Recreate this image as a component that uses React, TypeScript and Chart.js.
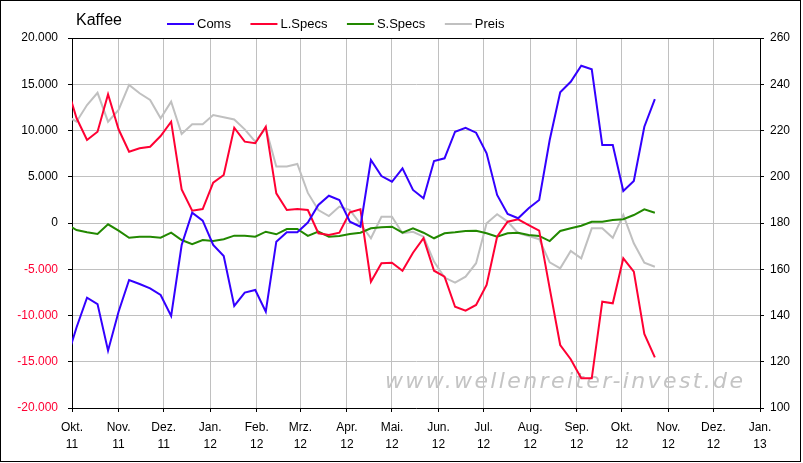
import React, { useEffect, useRef } from 'react';
import { Chart, registerables } from 'chart.js';

Chart.register(...registerables);

// Weekly report dates (Tuesdays)
const weekDates: string[] = [
  '2011-09-27', '2011-10-04', '2011-10-11', '2011-10-18', '2011-10-25',
  '2011-11-01', '2011-11-08', '2011-11-15', '2011-11-22', '2011-11-29',
  '2011-12-06', '2011-12-13', '2011-12-20', '2011-12-27',
  '2012-01-03', '2012-01-10', '2012-01-17', '2012-01-24', '2012-01-31',
  '2012-02-07', '2012-02-14', '2012-02-21', '2012-02-28',
  '2012-03-06', '2012-03-13', '2012-03-20', '2012-03-27',
  '2012-04-03', '2012-04-10', '2012-04-17', '2012-04-24',
  '2012-05-01', '2012-05-08', '2012-05-15', '2012-05-22', '2012-05-29',
  '2012-06-05', '2012-06-12', '2012-06-19', '2012-06-26',
  '2012-07-03', '2012-07-10', '2012-07-17', '2012-07-24', '2012-07-31',
  '2012-08-07', '2012-08-14', '2012-08-21', '2012-08-28',
  '2012-09-04', '2012-09-11', '2012-09-18', '2012-09-25',
  '2012-10-02', '2012-10-09', '2012-10-16', '2012-10-23',
];

const coms: number[] = [
  -15000, -11300, -8080, -8760, -13800, -9590, -6160, -6590, -7060, -7780,
  -10050, -2380, 1110, 250, -2380, -3570, -8970, -7530, -7240, -9590,
  -2020, -1010, -1010, 50, 1950, 2950, 2490, 140, -400, 6810,
  5080, 4460, 5910, 3570, 2670, 6700, 6990, 9870, 10300, 9760,
  7530, 3030, 970, 510, 1590, 2490, 8970, 14130, 15270, 17000,
  16610, 8430, 8430, 3460, 4540, 10410, 13400,
];

const longSpecs: number[] = [
  15100, 11350, 8970, 9870, 13910, 10130, 7710, 8080, 8250, 9400,
  10950, 3640, 1330, 1510, 4360, 5190, 10300, 8790, 8620, 10410,
  3210, 1400, 1510, 1400, -1110, -1300, -1050, 1160, 1480, -6350,
  -4360, -4290, -5160, -3210, -1650, -5160, -5800, -9050, -9480, -8860,
  -6700, -1480, 140, 400, -220, -830, -7060, -13190, -14730, -16790,
  -16790, -8510, -8680, -3820, -5260, -12000, -14520,
];

const shortSpecs: number[] = [
  -100, -760, -1010, -1190, -140, -830, -1590, -1480, -1480, -1590,
  -1050, -1840, -2300, -1840, -1950, -1760, -1370, -1370, -1480, -940,
  -1220, -650, -650, -1400, -940, -1480, -1400, -1190, -1050, -570,
  -460, -400, -1050, -570, -1050, -1650, -1110, -1010, -860, -830,
  -1110, -1480, -1110, -1050, -1300, -1400, -1950, -860, -570, -290,
  140, 140, 320, 400, 860, 1480, 1110,
];

const preis: number[] = [
  226.5, 223.8, 231.0, 236.3, 223.8, 228.9, 239.7, 236.1, 233.2, 225.3,
  232.5, 218.5, 222.7, 222.7, 226.7, 225.7, 224.8, 220.5, 215.2, 221.0,
  204.4, 204.4, 205.5, 193.0, 185.6, 183.0, 187.1, 185.6, 179.6, 173.4,
  182.7, 182.7, 175.6, 176.2, 174.1, 163.3, 156.4, 154.2, 156.8, 162.6,
  179.9, 183.8, 180.6, 175.6, 174.4, 173.0, 163.0, 160.4, 167.9, 164.7,
  177.7, 177.7, 173.6, 183.5, 171.2, 162.8, 161.1,
];

const monthStarts: string[] = [
  '2011-10-01', '2011-11-01', '2011-12-01', '2012-01-01', '2012-02-01',
  '2012-03-01', '2012-04-01', '2012-05-01', '2012-06-01', '2012-07-01',
  '2012-08-01', '2012-09-01', '2012-10-01', '2012-11-01', '2012-12-01',
  '2013-01-01',
];

const monthLabels: string[][] = [
  ['Okt.', '11'], ['Nov.', '11'], ['Dez.', '11'], ['Jan.', '12'], ['Feb.', '12'],
  ['Mrz.', '12'], ['Apr.', '12'], ['Mai.', '12'], ['Jun.', '12'], ['Jul.', '12'],
  ['Aug.', '12'], ['Sep.', '12'], ['Okt.', '12'], ['Nov.', '12'], ['Dez.', '12'],
  ['Jan.', '13'],
];

const seriesNames: string[] = ['Coms', 'L.Specs', 'S.Specs', 'Preis'];
const chartTitle = 'Kaffee';
const watermark = 'www.wellenreiter-invest.de';

const BLUE = '#3300ff';
const RED = '#ff0033';
const GREEN = '#228800';
const GREY = '#c0c0c0';
const FONT = '"Liberation Sans", Arial, sans-serif';
const WM_FONT = '"DejaVu Sans", Verdana, sans-serif';

const ORIGIN = Date.UTC(2011, 9, 1);
const dayOf = (s: string) => {
  const [y, m, d] = s.split('-').map(Number);
  return (Date.UTC(y, m - 1, d) - ORIGIN) / 86400000;
};

const fmtThousands = (v: number) => {
  const n = Math.round(Math.abs(v)).toString().replace(/\B(?=(\d{3})+(?!\d))/g, '.');
  return (v < 0 ? '-' : '') + n;
};

const decorPlugin = {
  id: 'decor',
  beforeDraw(chart: any) {
    const ctx = chart.ctx;
    ctx.save();
    ctx.fillStyle = '#ffffff';
    ctx.fillRect(0, 0, chart.width, chart.height);
    ctx.restore();
  },
  beforeDatasetsDraw(chart: any) {
    const ctx = chart.ctx;
    ctx.save();
    ctx.font = `oblique 22px ${WM_FONT}`;
    ctx.fillStyle = '#c4c4c4';
    ctx.textBaseline = 'alphabetic';
    ctx.textAlign = 'left';
    const targetW = 358;
    const w = ctx.measureText(watermark).width;
    if ('letterSpacing' in ctx) {
      (ctx as any).letterSpacing = `${(targetW - w) / (watermark.length - 1)}px`;
      ctx.fillText(watermark, 385, 388);
    } else {
      ctx.translate(385, 388);
      ctx.scale(targetW / w, 1);
      ctx.fillText(watermark, 0, 0);
    }
    ctx.restore();
  },
  afterDraw(chart: any) {
    const ctx = chart.ctx;
    const a = chart.chartArea;
    ctx.save();
    ctx.fillStyle = '#000';
    // top border of plot area
    ctx.fillRect(Math.round(a.left), Math.round(a.top), Math.round(a.right - a.left) + 1, 1);
    // outer frame
    ctx.fillRect(0, 0, 801, 1);
    ctx.fillRect(0, 0, 1, 462);
    ctx.fillRect(800, 0, 1, 462);
    ctx.fillRect(0, 461, 801, 1);

    // title
    ctx.font = `16px ${FONT}`;
    ctx.textBaseline = 'alphabetic';
    ctx.textAlign = 'left';
    ctx.fillText(chartTitle, 76, 25);

    // legend
    ctx.font = `13px ${FONT}`;
    let x = 167;
    chart.data.datasets.forEach((ds: any) => {
      ctx.strokeStyle = ds.borderColor;
      ctx.lineWidth = 2;
      ctx.beginPath();
      ctx.moveTo(x, 24);
      ctx.lineTo(x + 27, 24);
      ctx.stroke();
      ctx.fillStyle = '#000';
      ctx.fillText(ds.label, x + 30, 28);
      x += 30 + ctx.measureText(ds.label).width + 19.5;
    });
    ctx.restore();
  },
};

export default function App() {
  const canvasRef = useRef<HTMLCanvasElement | null>(null);

  useEffect(() => {
    const canvas = canvasRef.current;
    if (!canvas) return;
    const toPts = (vals: number[]) => weekDates.map((d, i) => ({ x: dayOf(d), y: vals[i] }));
    const mk = (label: string, vals: number[], color: string, axis: string) => ({
      label,
      data: toPts(vals),
      borderColor: color,
      backgroundColor: color,
      borderWidth: 2,
      pointRadius: 0,
      pointHoverRadius: 0,
      tension: 0,
      fill: false,
      yAxisID: axis,
      clip: 0,
    });

    const tickFont = { family: FONT, size: 12 };

    const chart = new Chart(canvas, {
      type: 'line',
      data: {
        datasets: [
          mk(seriesNames[0], coms, BLUE, 'y'),
          mk(seriesNames[1], longSpecs, RED, 'y'),
          mk(seriesNames[2], shortSpecs, GREEN, 'y'),
          mk(seriesNames[3], preis, GREY, 'y1'),
        ],
      },
      options: {
        animation: false,
        responsive: true,
        maintainAspectRatio: false,
        events: [],
        layout: { padding: { top: 38, left: 0, right: 0, bottom: 0 } },
        plugins: {
          legend: { display: false },
          title: { display: false },
          tooltip: { enabled: false },
        },
        scales: {
          x: {
            type: 'linear',
            position: 'bottom',
            min: dayOf(monthStarts[0]),
            max: dayOf(monthStarts[monthStarts.length - 1]),
            afterBuildTicks: (s: any) => {
              s.ticks = monthStarts.map((m) => ({ value: dayOf(m) }));
            },
            afterFit: (s: any) => {
              s.height = 55;
            },
            ticks: {
              autoSkip: false,
              maxRotation: 0,
              minRotation: 0,
              padding: 7,
              color: '#000',
              font: { ...tickFont, lineHeight: 17 / 12 },
              callback: (v: any) => {
                const i = monthStarts.findIndex((m) => dayOf(m) === v);
                return i >= 0 ? monthLabels[i] : '';
              },
            },
            grid: { color: GREY, tickColor: '#000', tickLength: 4, lineWidth: 1 },
            border: { color: '#000', width: 1 },
          },
          y: {
            type: 'linear',
            position: 'left',
            min: -20000,
            max: 20000,
            afterFit: (s: any) => {
              s.width = 72;
            },
            ticks: {
              stepSize: 5000,
              padding: 10,
              font: tickFont,
              color: (c: any) => (c.tick && c.tick.value < 0 ? RED : '#000'),
              callback: (v: any) => fmtThousands(Number(v)),
            },
            grid: { color: GREY, tickColor: '#000', tickLength: 4, lineWidth: 1 },
            border: { color: '#000', width: 1 },
          },
          y1: {
            type: 'linear',
            position: 'right',
            min: 100,
            max: 260,
            afterFit: (s: any) => {
              s.width = 43;
            },
            ticks: {
              stepSize: 20,
              padding: 6,
              font: tickFont,
              color: '#000',
            },
            grid: { drawOnChartArea: false, tickColor: '#000', tickLength: 4, lineWidth: 1 },
            border: { color: '#000', width: 1 },
          },
        },
      } as any,
      plugins: [decorPlugin],
    });

    return () => {
      chart.destroy();
    };
  }, []);

  return (
    <div style={{ position: 'absolute', left: 0, top: 0, width: 803, height: 463, background: '#fff' }}>
      <canvas ref={canvasRef} />
    </div>
  );
}
